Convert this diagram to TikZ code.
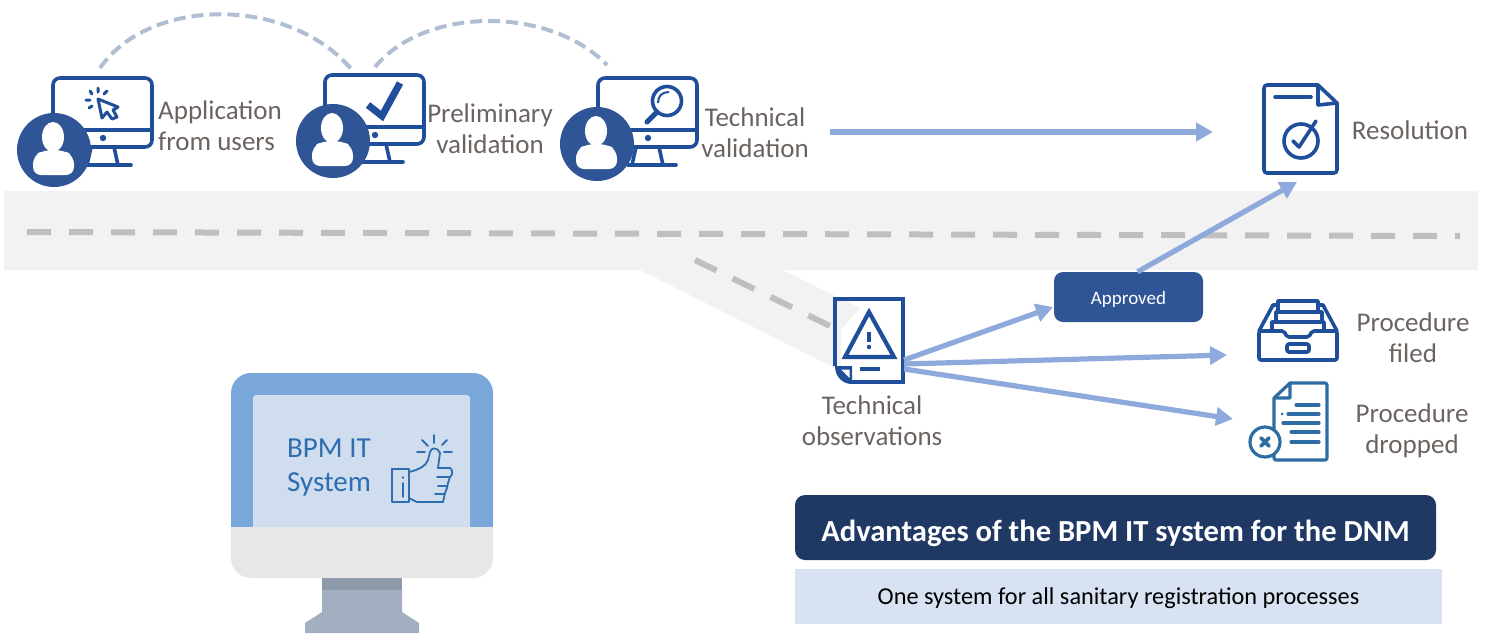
\documentclass[tikz,border=0pt]{standalone}
\usepackage{fontspec}
\setmainfont{Carlito}
\usetikzlibrary{arrows.meta,calc}
\definecolor{iconblue}{HTML}{1F4E9B}
\definecolor{discblue}{HTML}{2F5597}
\definecolor{docblue}{HTML}{2E6DA4}
\definecolor{flow}{HTML}{8EA9DB}
\definecolor{arcgrey}{HTML}{B0BED3}
\definecolor{lbl}{HTML}{6B6360}
\definecolor{bandgrey}{HTML}{F2F2F2}
\definecolor{dashgrey}{HTML}{BFBFBF}
\definecolor{navy}{HTML}{1F3864}
\definecolor{paleblue}{HTML}{D9E2F3}
\definecolor{pcframe}{HTML}{7AA7D9}
\definecolor{pcscreen}{HTML}{CFDDEE}
\definecolor{pcbase}{HTML}{E7E7E7}
\definecolor{pcneck}{HTML}{8C99A8}
\definecolor{pcstand}{HTML}{A3AFC0}
\definecolor{pctext}{HTML}{2E6DB0}
\tikzset{
  caption/.style={text=lbl,align=center,inner sep=0pt,font=\fontsize{27}{31}\selectfont},
  flowline/.style={draw=flow,line width=5.2pt,-{Triangle[length=17pt,width=18pt]}},
  arcline/.style={draw=arcgrey,line width=4pt,dash pattern=on 12pt off 6pt},
  laneline/.style={draw=dashgrey,line width=6pt,dash pattern=on 24pt off 18pt},
  iconline/.style={draw=iconblue,line width=3.6pt,line join=round,line cap=round},
  docline/.style={draw=docblue,line width=3.2pt,line join=round,line cap=round},
  thumbline/.style={draw=pctext,line width=1.8pt,line join=round,line cap=round},
}
\newcommand{\userscreen}[4]{%
  \draw[iconline,fill=white,rounded corners=7pt] (#1,#2) rectangle ++(99,69);
  \draw[iconline] (#1,#2+52) -- ++(99,0);
  \fill[iconblue] (#1+50,#2+60) circle (3.2pt);
  \draw[iconline] (#1+38,#2+69) -- ++(-4,18);
  \draw[iconline] (#1+61,#2+69) -- ++(4,18);
  \draw[iconline] (#1+30,#2+87) -- ++(48,0);
  \fill[discblue] (#3,#4) circle (37pt);
  \fill[white] (#3-1,#4-13) ellipse (11pt and 15pt);
  \fill[white,rounded corners=8pt] (#3-21,#4+25) -- (#3-21,#4+6) -- (#3-10,#4) -- (#3+9,#4) -- (#3+20,#4+6) -- (#3+20,#4+25) -- cycle;
}
\begin{document}
\begin{tikzpicture}[x=1pt,y=-1pt]
\useasboundingbox (0,0) rectangle (1491,633);
% lane
\fill[bandgrey] (4,191) rectangle (1478,270);
\fill[bandgrey] (640,270) -- (782,270) -- (860,308) -- (841,330) -- (841,370) -- (835,368) -- cycle;
\coordinate (laneA) at (27,232);
\coordinate (laneB) at (1460,236);
\coordinate (laneC) at (695,260);
\coordinate (laneD) at (830,326);
\draw[laneline] (laneA) -- (laneB);
\draw[laneline] (laneC) -- (laneD);
% arcs
\coordinate (arcA1) at (100,68);
\coordinate (arcA2) at (352,70);
\coordinate (arcB1) at (375,67);
\coordinate (arcB2) at (607,65);
\draw[arcline] (arcA1) .. controls (150,-4) and (290,-4) .. (arcA2);
\draw[arcline] (arcB1) .. controls (425,6) and (550,6) .. (arcB2);
% user monitors
\userscreen{53}{78}{54}{150}
\userscreen{325}{75}{333}{141}
\userscreen{598}{78}{597}{144}
% cursor
\draw[iconline,line width=3pt,fill=white] (98,99) -- (118,107) -- (113,110) -- (117,117) -- (112,119) -- (107,112) -- (102,118) -- cycle;
\draw[iconline,line width=3pt] (98,88) -- (98,92) (90,91) -- (92,94) (86,100) -- (90,100) (89,108) -- (92,106) (107,91) -- (104,94);
% check
\draw[draw=iconblue,line width=7pt] (368,105) -- (382,116) -- (400,83);
% magnifier
\draw[iconline] (667,101) circle (14.5pt);
\draw[iconline,line width=5pt] (657,112) -- (647,122);
\draw[draw=iconblue,line width=2pt] (658,103) .. controls (658,96) and (662,92) .. (669,92);
% labels
\node[caption,anchor=west,align=left] (app) at (158,126) {Application\\from users};
\node[caption] (prelim) at (490,129) {Preliminary\\validation};
\node[caption] (tech) at (755,133) {Technical\\validation};
\node[caption] (res) at (1410,130) {Resolution};
\node[caption] (filed) at (1413,338) {Procedure\\filed};
\node[caption] (dropped) at (1412,431) {Procedure\\dropped};
\node[caption] (obs) at (872,421) {Technical\\observations};
% resolution icon
\draw[iconline,rounded corners=3pt] (1318,85) -- (1264,85) -- (1264,173) -- (1337,173) -- (1337,103);
\draw[iconline] (1318,85) -- (1337,103) -- (1318,105) -- cycle;
\draw[iconline] (1275,97) -- (1311,97);
\draw[iconline] (1301,141) circle (17pt);
\draw[iconline] (1293,141) -- (1299,147) -- (1316,121);
% observation icon
\fill[iconblue] (835,366) -- (852,366) -- (852,384) .. controls (842,384) and (835,376) .. (835,366) -- cycle;
\fill[white] (841,369.5) -- (849.5,369.5) -- (849.5,378) -- cycle;
\draw[draw=iconblue,line width=4pt,line join=miter] (835,366) -- (835,299) -- (903,299) -- (903,382) -- (852,382);
\draw[draw=iconblue,line width=4.2pt,line join=miter] (869,312) -- (845,357) -- (894,357) -- cycle;
\draw[draw=iconblue,line width=4pt] (869,332) -- (869,342);
\fill[iconblue] (869,347) circle (2.2pt);
\draw[draw=iconblue,line width=4.5pt] (860,369) -- (880,369);
% tray
\draw[iconline,fill=white] (1278,310) -- (1278,301) -- (1318,301) -- (1318,310);
\draw[iconline,fill=white] (1276,322) -- (1276,312) -- (1322,312) -- (1322,322);
\draw[iconline] (1272,330) -- (1272,322) -- (1324,322) -- (1324,330);
\draw[iconline] (1259,331) -- (1273,305) -- (1278,305) (1318,305) -- (1323,305) -- (1337,331);
\draw[iconline,rounded corners=2pt] (1259,331) -- (1284,331) -- (1287,337) -- (1309,337) -- (1312,331) -- (1337,331) -- (1337,360) -- (1259,360) -- cycle;
\draw[iconline,rounded corners=2pt] (1287,344) rectangle (1309,352);
% dropped doc
\draw[docline,rounded corners=2pt] (1290,383) -- (1327,383) -- (1327,460) -- (1274,460) -- (1274,450);
\draw[docline] (1274,432) -- (1274,398) -- (1290,383) -- (1290,398) -- (1274,398);
\draw[docline] (1296,405) -- (1319,405) (1288,414) -- (1319,414) (1283,423) -- (1319,423) (1291,432) -- (1319,432) (1291,442) -- (1319,442);
\fill[docblue] (1282,414) circle (1.5pt);
\draw[docline,fill=white] (1265,442) circle (15pt);
\draw[docline,line width=3.6pt] (1261,438) -- (1269,446) (1269,438) -- (1261,446);
% arrows
\node[fill=discblue,rounded corners=9pt,minimum width=149pt,minimum height=50pt,inner sep=0pt,text=white,font=\fontsize{19}{22}\selectfont] (ok) at (1128.5,297) {\raisebox{-7pt}[0pt][0pt]{Approved}};
\coordinate (tv) at (830,132);
\coordinate (resIn) at (1213,132);
\coordinate (resDiag) at (1297,182);
\coordinate (okIn) at (1053,307);
\coordinate (fileIn) at (1227,355);
\coordinate (dropIn) at (1233,419);
\coordinate (obsA) at (904,360);
\coordinate (obsB) at (904,364);
\coordinate (obsC) at (904,369);
\draw[flowline] (tv) -- (resIn);
\draw[flowline] (ok.north) ++(9,0) -- (resDiag);
\draw[flowline] (obsA) -- (okIn);
\draw[flowline] (obsB) -- (fileIn);
\draw[flowline] (obsC) -- (dropIn);
% computer
\fill[pcstand] (322,590) -- (402,590) -- (402,612) -- (419,623) -- (419,633) -- (305,633) -- (305,623) -- (322,612) -- cycle;
\fill[pcneck] (322,578) rectangle (402,590);
\fill[pcframe] (231,527) [rounded corners=20pt] -- (231,373) -- (493,373) [sharp corners] -- (493,527) -- cycle;
\fill[pcbase] (231,527) [rounded corners=20pt] -- (231,578) -- (493,578) [sharp corners] -- (493,527) -- cycle;
\fill[pcscreen] (253,527) [rounded corners=3pt] -- (253,395) -- (470,395) [sharp corners] -- (470,527) -- cycle;
\node[anchor=west,align=left,inner sep=0pt,text=pctext,font=\fontsize{29}{34}\selectfont] (bpm) at (287,468) {BPM IT\\System};
% thumb
\draw[thumbline] (392,469) rectangle (409,502);
\draw[thumbline] (403,477) -- (403,478) (403,483) -- (403,497);
\draw[thumbline] (409,472) .. controls (418,470) and (426,466) .. (428,460) -- (430,452) .. controls (431,447) and (438,447) .. (440,453) -- (438,468) -- (450,468) .. controls (453,470) and (453,475) .. (450,477) -- (448,483) -- (447,488) -- (445,493) -- (443,502) -- (417,502) -- (409,498);
\draw[thumbline] (437,477) -- (450,477) (438,486) -- (447,486) (435,494) -- (444,494);
\draw[thumbline] (434,435) -- (434,443) (422,440) -- (428,446) (447,440) -- (442,445) (417,452) -- (425,452) (444,452) -- (452,452);
% advantages
\node[fill=navy,rounded corners=10pt,minimum width=641pt,minimum height=65pt,inner sep=0pt,text=white,font=\bfseries\fontsize{30.6}{34}\selectfont] (adv) at (1115.5,527.5) {\raisebox{-14pt}[0pt][0pt]{Advantages of the BPM IT system for the DNM}};
\node[fill=paleblue,minimum width=647pt,minimum height=55pt,inner sep=0pt,text=black,font=\fontsize{24.3}{28}\selectfont] (one) at (1118.5,596.5) {\raisebox{-8pt}[0pt][0pt]{One system for all sanitary registration processes}};
\end{tikzpicture}
\end{document}
